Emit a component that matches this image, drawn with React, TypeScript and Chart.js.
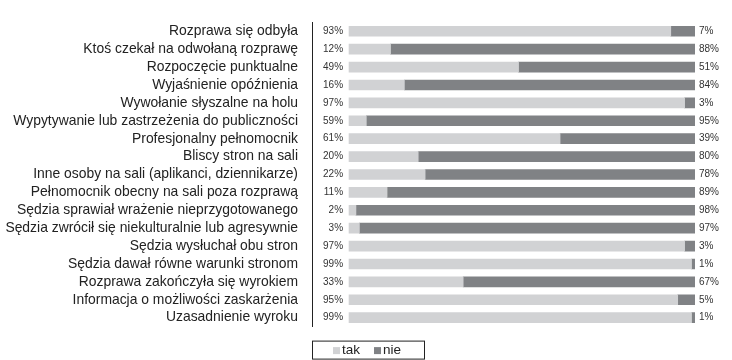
import React, { useEffect, useRef } from "react";
import { Chart, registerables } from "chart.js";

Chart.register(...registerables);

const categories = [
  "Rozprawa się odbyła",
  "Ktoś czekał na odwołaną rozprawę",
  "Rozpoczęcie punktualne",
  "Wyjaśnienie opóźnienia",
  "Wywołanie słyszalne na holu",
  "Wypytywanie lub zastrzeżenia do publiczności",
  "Profesjonalny pełnomocnik",
  "Bliscy stron na sali",
  "Inne osoby na sali (aplikanci, dziennikarze)",
  "Pełnomocnik obecny na sali poza rozprawą",
  "Sędzia sprawiał wrażenie nieprzygotowanego",
  "Sędzia zwrócił się niekulturalnie lub agresywnie",
  "Sędzia wysłuchał obu stron",
  "Sędzia dawał równe warunki stronom",
  "Rozprawa zakończyła się wyrokiem",
  "Informacja o możliwości zaskarżenia",
  "Uzasadnienie wyroku",
];

const takValues = [93, 12, 49, 16, 97, 5, 61, 20, 22, 11, 2, 3, 97, 99, 33, 95, 99];
const nieValues = [7, 88, 51, 84, 3, 95, 39, 80, 78, 89, 98, 97, 3, 1, 67, 5, 1];
const takLabels = ["93%", "12%", "49%", "16%", "97%", "59%", "61%", "20%", "22%", "11%", "2%", "3%", "97%", "99%", "33%", "95%", "99%"];
const nieLabels = ["7%", "88%", "51%", "84%", "3%", "95%", "39%", "80%", "78%", "89%", "98%", "97%", "3%", "1%", "67%", "5%", "1%"];

const seriesNames = ["tak", "nie"];
const TAK_COLOR = "#d1d2d4";
const NIE_COLOR = "#808285";
const FONT = "'Liberation Sans', Arial, sans-serif";

const pctLabelsPlugin = {
  id: "pctLabels",
  afterDatasetsDraw(chart: any) {
    const { ctx, chartArea, scales } = chart;
    const xs = scales.x;
    const ys = scales.y;
    ctx.save();
    ctx.font = `10px ${FONT}`;
    ctx.fillStyle = "#333";
    ctx.textBaseline = "middle";
    const x0 = xs.getPixelForValue(0);
    categories.forEach((_, i) => {
      const y = ys.getPixelForValue(i);
      ctx.textAlign = "right";
      ctx.fillText(takLabels[i], x0 - 6, y);
      ctx.textAlign = "left";
      ctx.fillText(nieLabels[i], chartArea.right + 4, y);
    });
    ctx.restore();
  },
};

const boxLegendPlugin = {
  id: "boxLegend",
  afterDraw(chart: any) {
    const { ctx, chartArea } = chart;
    const left = chartArea.left;
    const top = chartArea.bottom + 14.5;
    ctx.save();
    ctx.strokeStyle = "#222";
    ctx.lineWidth = 1;
    ctx.strokeRect(left + 0.5, top, 112, 18);
    ctx.font = `13.5px ${FONT}`;
    ctx.textBaseline = "middle";
    ctx.textAlign = "left";
    let x = left + 21;
    const cy = top + 9.5;
    chart.data.datasets.forEach((ds: any) => {
      ctx.fillStyle = ds.backgroundColor;
      ctx.fillRect(x, cy - 3.5, 7, 7);
      ctx.fillStyle = "#222";
      ctx.fillText(ds.label, x + 9, cy);
      x += 9 + ctx.measureText(ds.label).width + 14;
    });
    ctx.restore();
  },
};

export default function App() {
  const ref = useRef<HTMLCanvasElement | null>(null);
  useEffect(() => {
    if (!ref.current) return;
    const chart = new Chart(ref.current, {
      type: "bar",
      data: {
        labels: categories,
        datasets: [
          { label: seriesNames[0], data: takValues, backgroundColor: TAK_COLOR, barThickness: 10 },
          { label: seriesNames[1], data: nieValues, backgroundColor: NIE_COLOR, barThickness: 10 },
        ],
      },
      options: {
        indexAxis: "y",
        animation: false,
        responsive: false,
        layout: { padding: { top: 9.7, bottom: 33.4, left: 0, right: 37 } },
        plugins: { legend: { display: false }, tooltip: { enabled: false } },
        scales: {
          x: { stacked: true, display: false, min: -10.7, max: 100 },
          y: {
            stacked: true,
            grid: { display: false, drawTicks: false },
            border: { display: true, color: "#222", width: 1 },
            ticks: { color: "#222", font: { family: FONT, size: 13.9 }, padding: 14, autoSkip: false },
            afterFit(scale: any) {
              scale.width = 312;
            },
          },
        },
      },
      plugins: [pctLabelsPlugin, boxLegendPlugin],
    });
    return () => chart.destroy();
  }, []);
  return (
    <div style={{ position: "fixed", left: 0, top: 0, width: 732, height: 360, background: "#fff" }}>
      <canvas ref={ref} width={732} height={360} style={{ width: 732, height: 360 }} />
    </div>
  );
}
